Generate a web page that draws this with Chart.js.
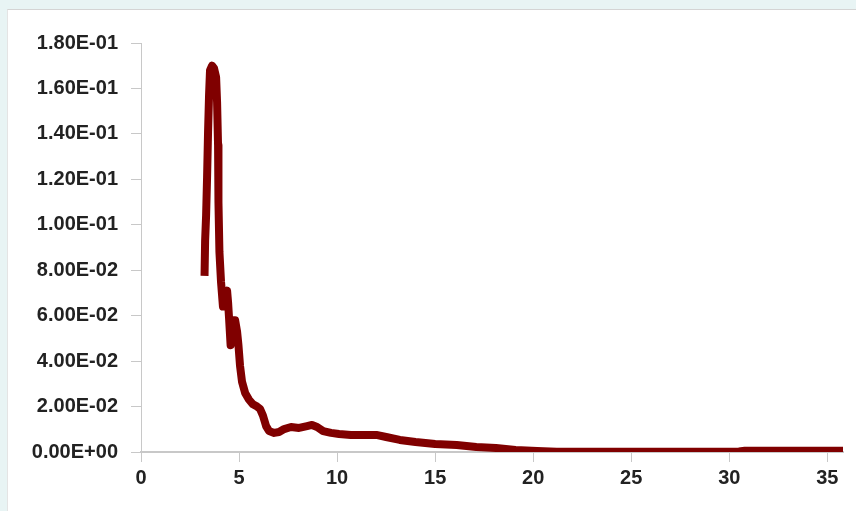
<!DOCTYPE html>
<html>
<head>
<meta charset="utf-8">
<script src="https://cdn.jsdelivr.net/npm/chart.js@4"></script>
<style>
  html, body { margin: 0; padding: 0; background: #e8f4f4; overflow: hidden; }
  #panel {
    position: absolute; left: 7px; top: 9px; width: 849px; height: 502px;
    background: #ffffff; border-top: 1px solid #d4d4d4; border-left: 1px solid #e4e4e4;
  }
  canvas { display: block; }
</style>
</head>
<body>
<div id="panel"><canvas id="chart" width="849" height="502"></canvas></div>
<script>
// x values
const xs = [3.24, 3.27, 3.32, 3.37, 3.42, 3.47, 3.52, 3.62, 3.72, 3.83,
  3.88, 3.93, 3.95, 4.00, 4.08, 4.18, 4.29, 4.39, 4.44, 4.49,
  4.57, 4.64, 4.72, 4.80, 4.90, 4.97, 5.05, 5.15, 5.31, 5.51,
  5.71, 5.92, 6.07, 6.22, 6.38, 6.53, 6.79, 7.04, 7.30, 7.65,
  8.06, 8.47, 8.72, 8.98, 9.29, 9.69, 10.1, 10.7, 12.0, 12.5,
  13.2, 14.0, 15.0, 16.1, 17.1, 18.1, 19.1, 20.2, 21.2, 23.0,
  25.0, 27.0, 29.0, 30.5, 30.8, 32.0, 34.0, 35.8];
// y values
const ys = [0.0775, 0.093, 0.104, 0.121, 0.141, 0.157, 0.168, 0.170, 0.169, 0.165,
  0.154, 0.135, 0.110, 0.088, 0.075, 0.064, 0.069, 0.071, 0.066, 0.059,
  0.047, 0.051, 0.058, 0.058, 0.053, 0.047, 0.038, 0.031, 0.026, 0.023,
  0.021, 0.020, 0.019, 0.016, 0.0114, 0.0092, 0.0084, 0.0088, 0.0101, 0.011,
  0.0106, 0.0114, 0.0119, 0.011, 0.0092, 0.0084, 0.0079, 0.0075, 0.0075, 0.0066,
  0.0053, 0.0044, 0.0035, 0.0031, 0.0022, 0.0018, 0.0009, 0.0004, 0.0001, 0.0001,
  0.0001, 0.0001, 0.0001, 0.0002, 0.0006, 0.0006, 0.0006, 0.0006];
// tick labels
const xTicks = [0, 5, 10, 15, 20, 25, 30, 35];
const yTicks = [0, 0.02, 0.04, 0.06, 0.08, 0.10, 0.12, 0.14, 0.16, 0.18];

const points = xs.map((x, i) => ({x: x, y: ys[i]}));

function sci(v) {
  let parts = Number(v).toExponential(2).split('e');
  let e = parseInt(parts[1], 10);
  let sign = e < 0 ? '-' : '+';
  let d = String(Math.abs(e)).padStart(2, '0');
  return parts[0] + 'E' + sign + d;
}

const axisGray = '#c8c8c8';
const labelFont = {family: "'Liberation Sans', Arial, sans-serif", size: 20, weight: 'bold'};

new Chart(document.getElementById('chart'), {
  type: 'line',
  data: {
    datasets: [{
      data: points,
      borderColor: '#800000',
      borderWidth: 8,
      borderJoinStyle: 'round',
      pointRadius: 0,
      tension: 0,
      fill: false
    }]
  },
  options: {
    responsive: false,
    animation: false,
    layout: {padding: {top: 33, right: 14, bottom: 0, left: 0}},
    plugins: {legend: {display: false}, tooltip: {enabled: false}},
    scales: {
      x: {
        type: 'linear',
        min: 0, max: 35.8,
        afterBuildTicks: s => { s.ticks = xTicks.map(v => ({value: v})); },
        grid: {drawOnChartArea: false, color: axisGray, tickLength: 10},
        border: {color: axisGray, width: 2},
        ticks: {color: '#222', font: labelFont, padding: 4, autoSkip: false, maxRotation: 0,
          callback: v => String(v)},
        afterFit: s => { s.height = 60; }
      },
      y: {
        min: 0, max: 0.18,
        afterBuildTicks: s => { s.ticks = yTicks.map(v => ({value: v})); },
        grid: {drawOnChartArea: false, color: axisGray, tickLength: 10},
        border: {color: axisGray, width: 1},
        ticks: {color: '#222', font: labelFont, padding: 13, autoSkip: false,
          callback: v => sci(v)},
        afterFit: s => { s.width = 133; }
      }
    }
  }
});
</script>
</body>
</html>
